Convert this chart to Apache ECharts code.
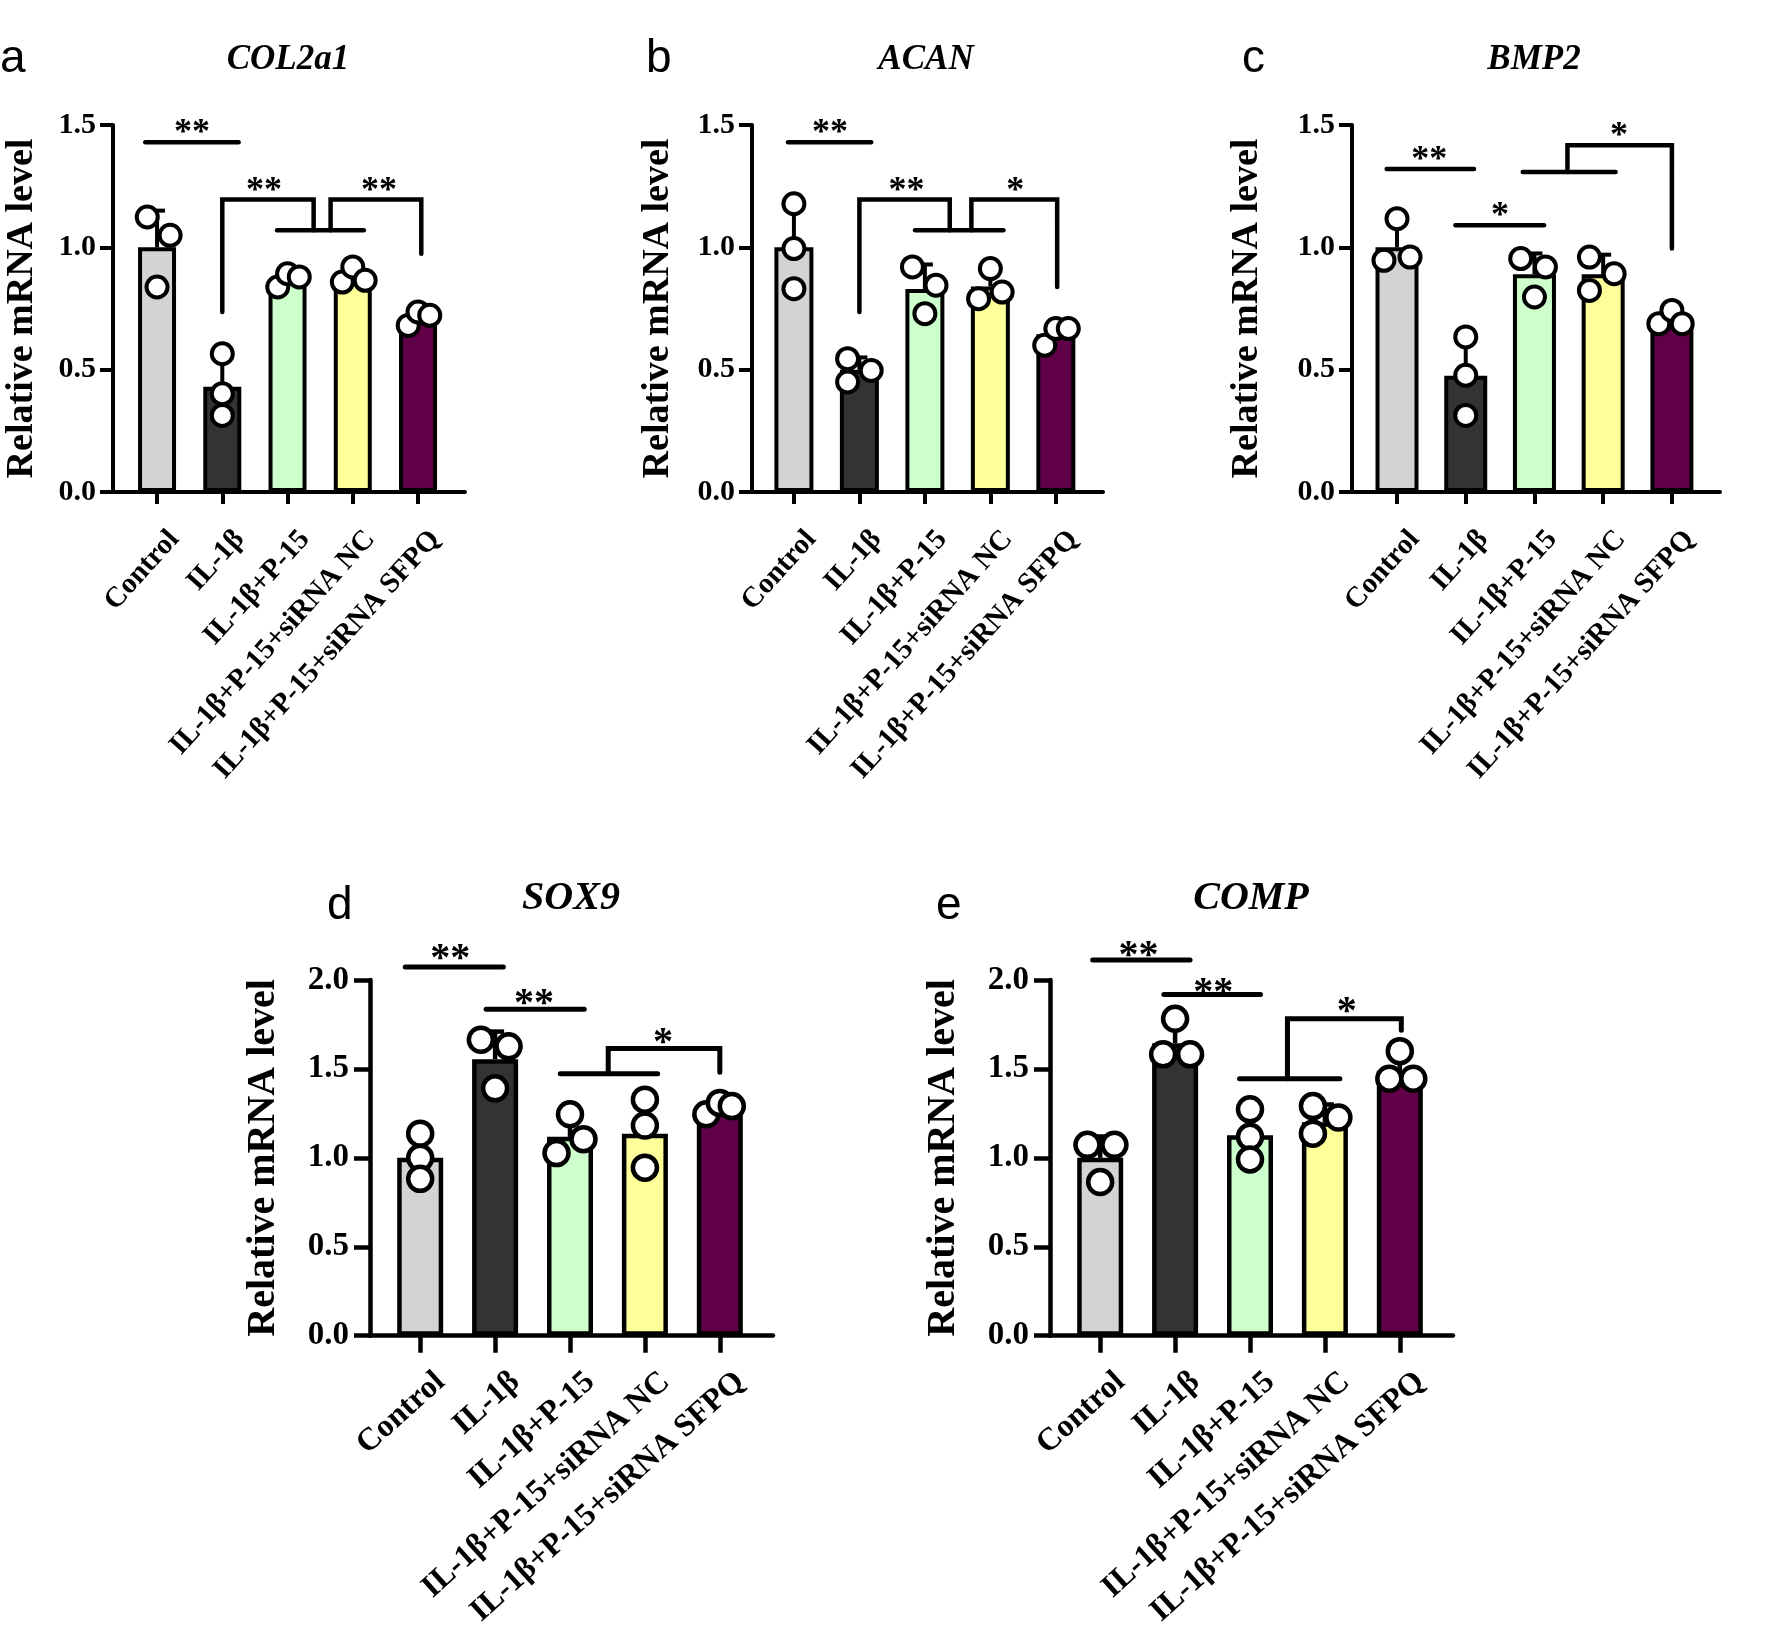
<!DOCTYPE html>
<html><head><meta charset="utf-8">
<script src="https://cdn.jsdelivr.net/npm/echarts@6/dist/echarts.min.js"></script>
<style>html,body{margin:0;padding:0;background:#fff}#c{width:1770px;height:1630px}</style>
</head><body><div id="c"></div>
<script>
// ---------- DATA ----------
const categories = ['Control', 'IL-1β', 'IL-1β+P-15', 'IL-1β+P-15+siRNA NC', 'IL-1β+P-15+siRNA SFPQ'];
const yTicksTop = [0, 0.5, 1.0, 1.5];
const yTicksBottom = [0, 0.5, 1.0, 1.5, 2.0];
const yAxisTitle = 'Relative mRNA level';

const col2a1Mean = [1.00, 0.43, 0.87, 0.88, 0.71];
const col2a1SD = [0.15, 0.13, 0.03, 0.035, 0.03];
const col2a1Points = [[1.124, 1.049, 0.838], [0.565, 0.402, 0.313], [0.838, 0.892, 0.879], [0.858, 0.920, 0.865], [0.681, 0.736, 0.722]];

const acanMean = [1.00, 0.50, 0.83, 0.84, 0.645];
const acanSD = [0.17, 0.05, 0.10, 0.06, 0.04];
const acanPoints = [[1.178, 0.995, 0.831], [0.545, 0.450, 0.497], [0.920, 0.845, 0.729], [0.790, 0.913, 0.817], [0.600, 0.668, 0.668]];

const bmp2Mean = [1.00, 0.475, 0.89, 0.89, 0.70];
const bmp2SD = [0.10, 0.16, 0.085, 0.08, 0.03];
const bmp2Points = [[1.117, 0.947, 0.960], [0.634, 0.477, 0.313], [0.954, 0.920, 0.797], [0.960, 0.892, 0.824], [0.688, 0.742, 0.688]];

const sox9Mean = [1.00, 1.555, 1.118, 1.136, 1.275];
const sox9SD = [0.13, 0.155, 0.11, 0.19, 0.035];
const sox9Points = [[1.136, 1.000, 0.882], [1.664, 1.627, 1.391], [1.245, 1.105, 1.027], [1.327, 1.182, 0.945], [1.245, 1.309, 1.291]];

const compMean = [1.00, 1.645, 1.127, 1.20, 1.49];
const compSD = [0.12, 0.115, 0.14, 0.10, 0.09];
const compPoints = [[1.073, 1.073, 0.864], [1.782, 1.582, 1.582], [1.273, 1.118, 0.991], [1.291, 1.227, 1.136], [1.600, 1.445, 1.445]];

// significance brackets (category index, value) and star labels
const col2a1Lines = [[[-0.18, 1.43], [1.25, 1.43]], [[1, 0.736], [1, 1.195], [2.40, 1.195], [2.40, 1.07]], [[1.84, 1.07], [3.17, 1.07]], [[2.66, 1.07], [2.66, 1.195], [4.05, 1.195], [4.05, 0.974]]];
const col2a1Stars = [[0.535, 1.50, '**'], [1.64, 1.265, '**'], [3.40, 1.265, '**']];
const acanLines = [[[-0.09, 1.43], [1.18, 1.43]], [[1, 0.736], [1, 1.195], [2.38, 1.195], [2.38, 1.07]], [[1.85, 1.07], [3.2, 1.07]], [[2.71, 1.07], [2.71, 1.195], [4.02, 1.195], [4.02, 0.838]]];
const acanStars = [[0.55, 1.50, '**'], [1.72, 1.265, '**'], [3.38, 1.265, '*']];
const bmp2Lines = [[[-0.15, 1.32], [1.12, 1.32]], [[0.85, 1.09], [2.14, 1.09]], [[1.83, 1.308], [3.18, 1.308]], [[2.48, 1.308], [2.48, 1.417], [4.0, 1.417], [4.0, 0.995]]];
const bmp2Stars = [[0.47, 1.39, '**'], [1.5, 1.16, '*'], [3.23, 1.49, '*']];
const sox9Lines = [[[-0.2, 2.073], [1.11, 2.073]], [[0.88, 1.836], [2.19, 1.836]], [[1.87, 1.473], [3.17, 1.473]], [[2.51, 1.473], [2.51, 1.615], [4.0, 1.615], [4.0, 1.482]]];
const sox9Stars = [[0.40, 2.17, '**'], [1.52, 1.918, '**'], [3.24, 1.70, '*']];
const compLines = [[[-0.1, 2.113], [1.2, 2.113]], [[0.85, 1.918], [2.14, 1.918]], [[1.86, 1.445], [3.2, 1.445]], [[2.5, 1.445], [2.5, 1.782], [4.02, 1.782], [4.02, 1.718]]];
const compStars = [[0.51, 2.19, '**'], [1.51, 1.98, '**'], [3.29, 1.87, '*']];

// ---------- LAYOUT / STYLE ----------
const barColors = ['#d3d3d3', '#333333', '#ccffcc', '#ffff99', '#600048'];
const SERIF = '"Liberation Serif", "Times New Roman", serif';
const SANS = '"Liberation Sans", Arial, sans-serif';

const styleTop = {tickFont: 30, nameFont: 38, xFont: 29, rotate: 48, titleFont: 35, starFont: 36, starDy: 9, lw: 4, bracketW: 4.5,
  yTickLen: 13, xTickLen: 12, sym: 21, symBorder: 4, cap: 8, xMargin: 33, yMargin: 17, labelShift: 0.1};
const styleBottom = {tickFont: 33, nameFont: 40, xFont: 32, rotate: 42, titleFont: 40, starFont: 40, starDy: 10, lw: 4.5, bracketW: 5,
  yTickLen: 16, xTickLen: 17, sym: 24, symBorder: 4.5, cap: 9, xMargin: 30, yMargin: 21, labelShift: 0.13};

// horizontal jitter of points (category units)
const jitterA = [[-0.15, 0.2, 0], [0, 0, 0], [-0.15, 0, 0.18], [-0.16, 0, 0.19], [-0.15, 0, 0.18]];
const jitterB = [[0, 0, 0], [-0.18, -0.18, 0.18], [-0.19, 0.17, 0], [-0.18, 0, 0.18], [-0.17, 0, 0.19]];
const jitterC = [[0, -0.19, 0.19], [0, 0, 0], [-0.2, 0.16, 0], [-0.2, 0.16, -0.2], [-0.19, 0, 0.15]];
const jitterD = [[0, 0, 0], [-0.19, 0.18, 0], [0, 0.18, -0.18], [0, 0, 0], [-0.18, 0, 0.16]];
const jitterE = [[-0.17, 0.19, 0], [0, -0.16, 0.2], [0, 0, 0], [-0.16, 0.18, -0.16], [0, -0.14, 0.18]];

const panels = [
  {gene: 'COL2a1', letter: 'a', mean: col2a1Mean, sd: col2a1SD, pts: col2a1Points, jit: jitterA, lines: col2a1Lines, stars: col2a1Stars, ticks: yTicksTop, st: styleTop,
   grid: {left: 113, top: 125, width: 352, height: 367}, xr: [-0.675, 4.72], bw: 38, gap: 72, letterXY: [0, 36], titleXY: [288, 60]},
  {gene: 'ACAN', letter: 'b', mean: acanMean, sd: acanSD, pts: acanPoints, jit: jitterB, lines: acanLines, stars: acanStars, ticks: yTicksTop, st: styleTop,
   grid: {left: 752, top: 125, width: 351, height: 367}, xr: [-0.64, 4.72], bw: 39, gap: 75, letterXY: [646, 36], titleXY: [926, 60]},
  {gene: 'BMP2', letter: 'c', mean: bmp2Mean, sd: bmp2SD, pts: bmp2Points, jit: jitterC, lines: bmp2Lines, stars: bmp2Stars, ticks: yTicksTop, st: styleTop,
   grid: {left: 1352, top: 125, width: 368, height: 367}, xr: [-0.655, 4.70], bw: 43, gap: 86, letterXY: [1242, 36], titleXY: [1534, 60]},
  {gene: 'SOX9', letter: 'd', mean: sox9Mean, sd: sox9SD, pts: sox9Points, jit: jitterD, lines: sox9Lines, stars: sox9Stars, ticks: yTicksBottom, st: styleBottom,
   grid: {left: 370, top: 980, width: 403, height: 367}, xr: [-0.67, 4.71], bw: 46, gap: 86, letterXY: [327, 883], titleXY: [571, 899]},
  {gene: 'COMP', letter: 'e', mean: compMean, sd: compSD, pts: compPoints, jit: jitterE, lines: compLines, stars: compStars, ticks: yTicksBottom, st: styleBottom,
   grid: {left: 1050, top: 980, width: 403, height: 367}, xr: [-0.67, 4.71], bw: 46, gap: 86, letterXY: [936, 883], titleXY: [1251, 899]}
];

const option = {animation: false, backgroundColor: '#fff', grid: [], xAxis: [], yAxis: [], series: [], graphic: []};

panels.forEach((p, i) => {
  const st = p.st;
  option.grid.push(Object.assign({containLabel: false}, p.grid));
  const idx = categories.map((c, j) => j);
  option.xAxis.push({
    type: 'value', gridIndex: i, min: p.xr[0], max: p.xr[1],
    axisLine: {show: true, onZero: false, lineStyle: {color: '#000', width: st.lw}},
    axisTick: {show: true, length: st.xTickLen, lineStyle: {color: '#000', width: st.lw}, customValues: idx},
    axisLabel: {customValues: idx.map(j => j + st.labelShift), formatter: v => categories[Math.round(v - st.labelShift)] || '',
      rotate: st.rotate, margin: st.xMargin, align: 'right', verticalAlign: 'top',
      fontFamily: SERIF, fontWeight: 'bold', fontSize: st.xFont, color: '#000'},
    splitLine: {show: false}
  });
  const yMax = p.ticks[p.ticks.length - 1];
  option.yAxis.push({
    type: 'value', gridIndex: i, min: p.ticks[0], max: yMax, interval: p.ticks[1] - p.ticks[0],
    name: yAxisTitle, nameLocation: 'middle', nameRotate: 90, nameGap: p.gap,
    nameTextStyle: {fontFamily: SERIF, fontWeight: 'bold', fontSize: st.nameFont, color: '#000'},
    axisLine: {show: true, onZero: false, lineStyle: {color: '#000', width: st.lw}},
    axisTick: {show: true, length: st.yTickLen, lineStyle: {color: '#000', width: st.lw}},
    axisLabel: {formatter: v => v.toFixed(1), margin: st.yMargin, fontFamily: SERIF, fontWeight: 'bold', fontSize: st.tickFont, color: '#000'},
    splitLine: {show: false}
  });
  // bars
  option.series.push({
    type: 'bar', xAxisIndex: i, yAxisIndex: i, barWidth: p.bw, z: 2,
    data: p.mean.map((m, j) => ({value: [j, m], itemStyle: {color: barColors[j], borderColor: '#000', borderWidth: st.lw}}))
  });
  // error bars (mean + SD, upper only)
  option.series.push({
    type: 'custom', xAxisIndex: i, yAxisIndex: i, z: 3,
    data: p.mean.map((m, j) => [j, m, m + p.sd[j]]),
    renderItem: (params, api) => {
      const a = api.coord([api.value(0), api.value(1)]);
      const b = api.coord([api.value(0), api.value(2)]);
      return {type: 'group', children: [
        {type: 'line', shape: {x1: a[0], y1: a[1], x2: b[0], y2: b[1]}, style: {stroke: '#000', lineWidth: st.lw}},
        {type: 'line', shape: {x1: b[0] - st.cap, y1: b[1], x2: b[0] + st.cap, y2: b[1]}, style: {stroke: '#000', lineWidth: st.lw}}
      ]};
    }
  });
  // individual points
  const pd = [];
  p.pts.forEach((arr, j) => arr.forEach((v, k) => pd.push([j + p.jit[j][k], v])));
  option.series.push({
    type: 'scatter', xAxisIndex: i, yAxisIndex: i, z: 4, symbol: 'circle', symbolSize: st.sym,
    itemStyle: {color: '#fff', borderColor: '#000', borderWidth: st.symBorder, opacity: 1},
    data: pd
  });
  // significance lines
  const lines = p.lines;
  option.series.push({
    type: 'custom', xAxisIndex: i, yAxisIndex: i, z: 5, clip: false,
    data: lines.map(l => l[0]),
    renderItem: (params, api) => ({
      type: 'polyline',
      shape: {points: lines[params.dataIndex].map(pt => api.coord(pt))},
      style: {stroke: '#000', lineWidth: st.bracketW, fill: null, lineCap: 'round', lineJoin: 'miter'}
    })
  });
  const stars = p.stars;
  option.series.push({
    type: 'custom', xAxisIndex: i, yAxisIndex: i, z: 5, clip: false,
    data: stars.map(s => [s[0], s[1]]),
    renderItem: (params, api) => {
      const c = api.coord([api.value(0), api.value(1)]);
      return {type: 'text', x: c[0], y: c[1] + st.starDy, style: {text: stars[params.dataIndex][2], fill: '#000',
        font: 'bold ' + st.starFont + 'px ' + SERIF, align: 'center', verticalAlign: 'middle'}};
    }
  });
  option.graphic.push({type: 'text', x: p.titleXY[0], y: p.titleXY[1],
    style: {text: p.gene, font: 'italic bold ' + st.titleFont + 'px ' + SERIF, fill: '#000', align: 'center', verticalAlign: 'middle'}});
  option.graphic.push({type: 'text', x: p.letterXY[0], y: p.letterXY[1],
    style: {text: p.letter, font: '46px ' + SANS, fill: '#000', align: 'left', verticalAlign: 'alphabetic'}});
});

const chart = echarts.init(document.getElementById('c'), null, {renderer: 'canvas'});
chart.setOption(option);
</script>
</body></html>
